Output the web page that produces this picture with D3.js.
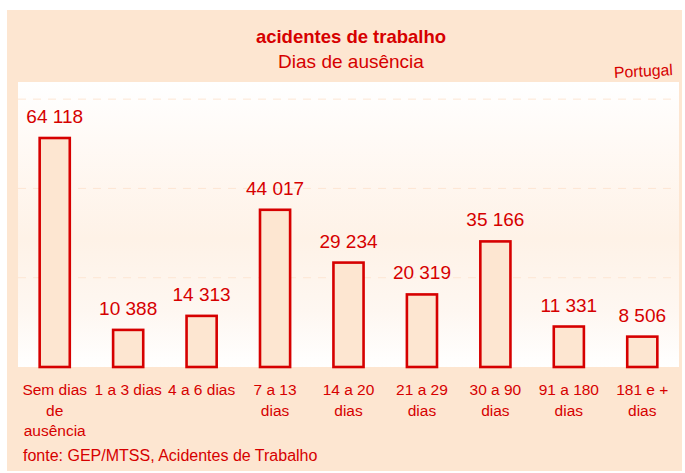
<!DOCTYPE html>
<html>
<head>
<meta charset="utf-8">
<script src="https://cdn.jsdelivr.net/npm/d3@7"></script>
<style>
  body { margin: 0; background: #fff; }
  svg { display: block; font-family: "Liberation Sans", Arial, sans-serif; }
</style>
</head>
<body>
<div id="chart"></div>
<script>
// data
const categories = ["Sem dias de ausência", "1 a 3 dias", "4 a 6 dias", "7 a 13 dias", "14 a 20 dias",
    "21 a 29 dias", "30 a 90 dias", "91 a 180 dias", "181 e + dias"];
const categoryLines = [
    ["Sem dias", "de", "ausência"], ["1 a 3 dias"], ["4 a 6 dias"], ["7 a 13", "dias"], ["14 a 20", "dias"],
    ["21 a 29", "dias"], ["30 a 90", "dias"], ["91 a 180", "dias"], ["181 e +", "dias"]
];
const values = [64118, 10388, 14313, 44017, 29234, 20319, 35166, 11331, 8506];
const gridValues = [25000, 50000, 75000];

const red = "#d60000";
const peach = "#fde6d1";

let width = 685, height = 473;
let plot = {left: 18, right: 679, top: 82, bottom: 367};

let svg = d3.select("#chart").append("svg")
    .attr("width", width)
    .attr("height", height);

// gradient for plot area
let defs = svg.append("defs");
let grad = defs.append("linearGradient")
    .attr("id", "plotGrad")
    .attr("x1", 0).attr("y1", 0).attr("x2", 0).attr("y2", 1);
grad.append("stop").attr("offset", "0").attr("stop-color", "#ffffff");
grad.append("stop").attr("offset", "0.2").attr("stop-color", "#fffaf6");
grad.append("stop").attr("offset", "0.55").attr("stop-color", "#fef2e7");
grad.append("stop").attr("offset", "0.8").attr("stop-color", "#fef7f1");
grad.append("stop").attr("offset", "1").attr("stop-color", "#ffffff");

// chart background
svg.append("rect")
    .attr("x", 7).attr("y", 10)
    .attr("width", 675).attr("height", 461)
    .attr("fill", peach);

svg.append("rect")
    .attr("x", plot.left).attr("y", plot.top)
    .attr("width", plot.right - plot.left).attr("height", plot.bottom - plot.top)
    .attr("fill", "url(#plotGrad)");

// scales
let x = d3.scaleBand()
    .domain(categories)
    .range([plot.left, plot.right])
    .paddingInner(0.59)
    .paddingOuter(0.295);

let y = d3.scaleLinear()
    .domain([0, 80000])
    .range([plot.bottom, plot.bottom - 80000 * (229 / 64118)]);

// gridlines
svg.selectAll(".grid")
    .data(gridValues)
    .enter()
    .append("line")
    .attr("class", "grid")
    .attr("x1", plot.left)
    .attr("x2", 672)
    .attr("y1", d => y(d))
    .attr("y2", d => y(d))
    .attr("stroke", "#fde6d3")
    .attr("stroke-width", 1)
    .attr("stroke-dasharray", "8,7");

// bars
svg.selectAll(".bar")
    .data(values)
    .enter()
    .append("rect")
    .attr("class", "bar")
    .attr("x", (d, i) => x(categories[i]))
    .attr("y", d => y(d))
    .attr("width", x.bandwidth())
    .attr("height", d => y(0) - y(d))
    .attr("fill", peach)
    .attr("stroke", red)
    .attr("stroke-width", 2.6);

// value labels
let fmt = d => d3.format(",")(d).replace(/,/g, " ");
svg.selectAll(".val")
    .data(values)
    .enter()
    .append("text")
    .attr("class", "val")
    .attr("x", (d, i) => x(categories[i]) + x.bandwidth() / 2)
    .attr("y", d => y(d) - 15)
    .attr("text-anchor", "middle")
    .attr("font-size", "19px")
    .attr("fill", red)
    .text(fmt);

// category labels
let cat = svg.selectAll(".cat")
    .data(categoryLines)
    .enter()
    .append("text")
    .attr("class", "cat")
    .attr("text-anchor", "middle")
    .attr("font-size", "15.5px")
    .attr("fill", red);

cat.selectAll("tspan")
    .data((d, i) => d.map(line => ({line: line, i: i})))
    .enter()
    .append("tspan")
    .attr("x", d => x(categories[d.i]) + x.bandwidth() / 2)
    .attr("y", (d, j) => 395 + j * 20.7)
    .text(d => d.line);

// titles
svg.append("text")
    .attr("x", 351).attr("y", 43)
    .attr("text-anchor", "middle")
    .attr("font-size", "18.5px")
    .attr("font-weight", "bold")
    .attr("fill", red)
    .text("acidentes de trabalho");

svg.append("text")
    .attr("x", 351).attr("y", 68)
    .attr("text-anchor", "middle")
    .attr("font-size", "19px")
    .attr("fill", red)
    .text("Dias de ausência");

svg.append("text")
    .attr("transform", "translate(673,75) rotate(-3)")
    .attr("text-anchor", "end")
    .attr("font-size", "15.8px")
    .attr("fill", red)
    .text("Portugal");

svg.append("text")
    .attr("x", 23).attr("y", 461)
    .attr("font-size", "16px")
    .attr("fill", red)
    .text("fonte: GEP/MTSS, Acidentes de Trabalho");
</script>
</body>
</html>
